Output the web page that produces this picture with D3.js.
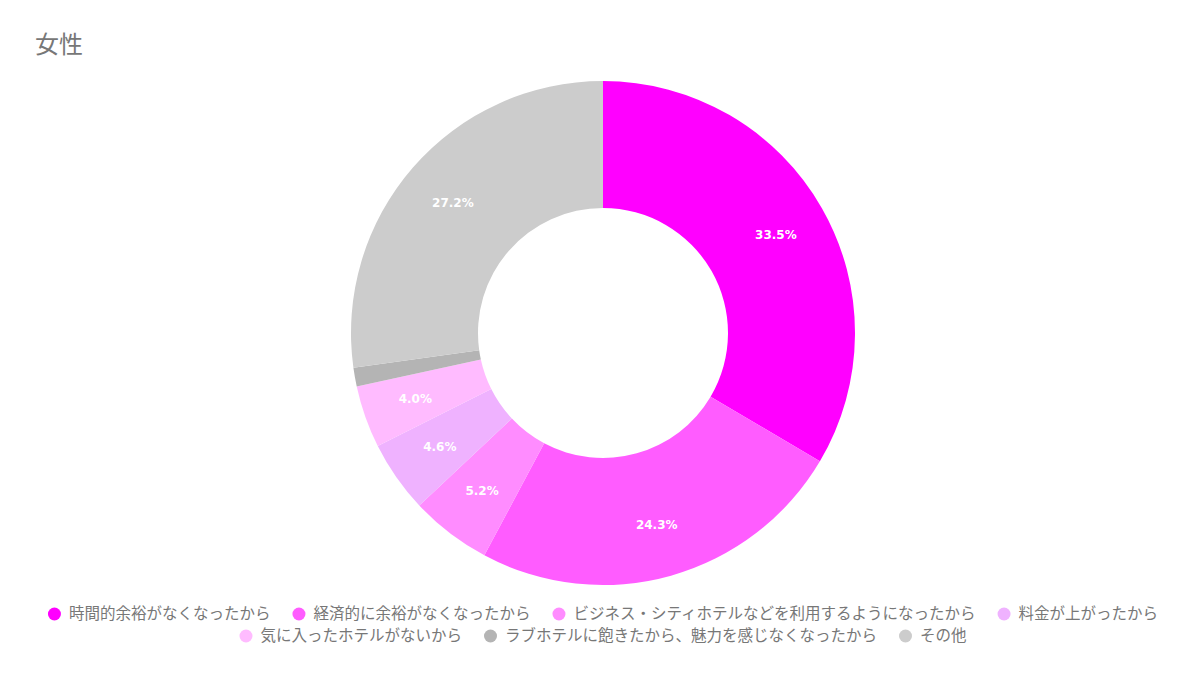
<!DOCTYPE html>
<html lang="ja">
<head>
  <meta charset="UTF-8">
  <title>女性</title>
  <script src="https://d3js.org/d3.v7.min.js"></script>
  <style>
    body { margin: 0; background: #fff; }
    text { font-family: "Noto Sans CJK JP", "Noto Sans", sans-serif; }
  </style>
</head>
<body>
  <svg id="chart" width="1200" height="674"></svg>

  <script>
    // reasons (legend order = slice order, clockwise from 12 o'clock)
    const labels = [
      "時間的余裕がなくなったから",
      "経済的に余裕がなくなったから",
      "ビジネス・シティホテルなどを利用するようになったから",
      "料金が上がったから",
      "気に入ったホテルがないから",
      "ラブホテルに飽きたから、魅力を感じなくなったから",
      "その他"
    ];
    const values = [33.5, 24.3, 5.2, 4.6, 4.0, 1.2, 27.2];
    const colors = ["#ff00ff", "#ff5cff", "#ff8cff", "#efb2ff", "#ffbbff", "#b4b4b4", "#cccccc"];

    const svg = d3.select("#chart");
    const cx = 603, cy = 333;
    const outerR = 252, innerR = 125, labelR = 199;

    svg.append("text")
      .attr("x", 35).attr("y", 53)
      .attr("font-size", 24)
      .attr("fill", "#777")
      .text("女性");

    const pie = d3.pie().sort(null).value(d => d.v);
    const arc = d3.arc().innerRadius(innerR).outerRadius(outerR);
    const labelArc = d3.arc().innerRadius(labelR).outerRadius(labelR);

    const data = values.map((v, i) => ({ v: v, name: labels[i], color: colors[i] }));
    const g = svg.append("g").attr("transform", `translate(${cx},${cy})`);

    g.selectAll("path").data(pie(data))
      .join("path")
      .attr("d", arc)
      .attr("fill", d => d.data.color);

    // percentage labels, skip the tiny slice
    g.selectAll("text.pct").data(pie(data).filter(d => d.data.v >= 2))
      .join("text")
      .attr("class", "pct")
      .attr("transform", d => `translate(${labelArc.centroid(d)})`)
      .attr("text-anchor", "middle")
      .attr("dy", "0.35em")
      .attr("font-size", 12)
      .attr("font-weight", "bold")
      .attr("fill", "#fff")
      .style("font-family", "Verdana, 'DejaVu Sans', sans-serif")
      .text(d => d.data.v.toFixed(1) + "%");

    // legend, wrapped into centred rows
    const fontSize = 15.5, dotR = 6.5, dotGap = 8, itemGap = 22, maxW = 1140;
    const legend = svg.append("g");
    const measure = legend.append("text").attr("font-size", fontSize);
    const items = data.map(d => {
      measure.text(d.name);
      return { d: d, w: dotR * 2 + dotGap + measure.node().getComputedTextLength() };
    });
    measure.remove();

    const rows = [[]];
    let rowW = 0;
    items.forEach(it => {
      const add = (rows[rows.length - 1].length ? itemGap : 0) + it.w;
      if (rowW + add > maxW && rows[rows.length - 1].length) {
        rows.push([it]);
        rowW = it.w;
      } else {
        rows[rows.length - 1].push(it);
        rowW += add;
      }
    });

    rows.forEach((row, ri) => {
      const total = d3.sum(row, it => it.w) + itemGap * (row.length - 1);
      let x = cx - total / 2;
      const y = 614 + ri * 22;
      row.forEach(it => {
        legend.append("circle")
          .attr("cx", x + dotR).attr("cy", y)
          .attr("r", dotR)
          .attr("fill", it.d.color);
        legend.append("text")
          .attr("x", x + dotR * 2 + dotGap).attr("y", y)
          .attr("dy", "0.35em")
          .attr("font-size", fontSize)
          .attr("fill", "#777")
          .text(it.d.name);
        x += it.w + itemGap;
      });
    });
  </script>
</body>
</html>
